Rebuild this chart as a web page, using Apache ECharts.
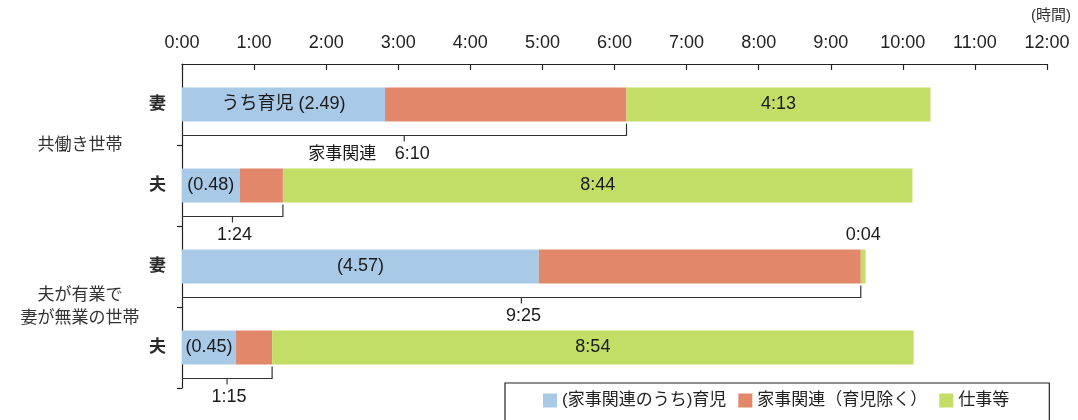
<!DOCTYPE html>
<html>
<head>
<meta charset="utf-8">
<script src="https://cdn.jsdelivr.net/npm/echarts@6/dist/echarts.min.js"></script>
<style>
  html, body { margin: 0; padding: 0; background: #fff; }
  #chart { width: 1078px; height: 420px; }
</style>
</head>
<body>
<div id="chart"></div>
<script>
// Daily time use (minutes) by spouse, for two household types
const categories = ['妻', '夫', '妻', '夫'];
const groups = ['共働き世帯', '夫が有業で\n妻が無業の世帯'];
const childcareMin = [169, 48, 297, 45];        // 育児
const otherHouseworkMin = [201, 36, 268, 30];   // 家事関連（育児除く）
const workMin = [253, 524, 4, 534];             // 仕事等
const houseworkTotalMin = [370, 84, 565, 75];   // 家事関連 total
const hourLabels = ['0:00', '1:00', '2:00', '3:00', '4:00', '5:00', '6:00',
                    '7:00', '8:00', '9:00', '10:00', '11:00', '12:00'];
const seriesNames = ['(家事関連のうち)育児', '家事関連（育児除く）', '仕事等'];

const FONT = "'Liberation Sans', 'Noto Sans CJK JP', sans-serif";
const COLORS = ['#a9cae6', '#e3876b', '#c2de66'];

const hm = (m, sep) => Math.floor(m / 60) + sep + String(m % 60).padStart(2, '0');

const chart = echarts.init(document.getElementById('chart'), null, { renderer: 'canvas' });

const option = {
  animation: false,
  textStyle: { fontFamily: FONT },
  title: {
    text: '(時間)', right: 2, top: 3,
    textStyle: { fontSize: 15, fontWeight: 'normal', color: '#333', fontFamily: FONT }
  },
  legend: {
    data: seriesNames,
    left: 505, top: 383,
    padding: [9, 40, 14, 38],
    borderColor: '#222', borderWidth: 1.2,
    icon: 'rect', itemWidth: 14, itemHeight: 14, itemGap: 12,
    textStyle: { fontSize: 17, color: '#222', fontFamily: FONT }
  },
  grid: { left: 182, right: 31, top: 64, bottom: 32, containLabel: false },
  xAxis: {
    type: 'value', position: 'top',
    min: 0, max: 720, interval: 60,
    axisLine: { show: true, lineStyle: { color: '#222', width: 1.2 } },
    axisTick: { show: true, inside: true, length: 6, lineStyle: { color: '#222', width: 1.2 } },
    axisLabel: {
      formatter: (v) => hourLabels[Math.round(v / 60)],
      margin: 12, fontSize: 18, color: '#222', fontFamily: FONT
    },
    splitLine: { show: false }
  },
  yAxis: [
    {
      type: 'category', data: categories, inverse: true,
      axisLine: { show: true, lineStyle: { color: '#222', width: 1.2 } },
      axisTick: { show: true, length: 5, interval: (i) => i !== 0, lineStyle: { color: '#222', width: 1.2 } },
      axisLabel: { margin: 16, fontSize: 17, fontWeight: 'bold', color: '#2a2a2a', fontFamily: FONT }
    },
    {
      type: 'category', data: groups, inverse: true, position: 'left',
      axisLine: { show: false }, axisTick: { show: false },
      axisLabel: { margin: 102, align: 'center', fontSize: 17, lineHeight: 23, color: '#333', fontFamily: FONT }
    }
  ],
  series: [
    {
      name: seriesNames[0], type: 'bar', stack: 'time', barWidth: 34,
      itemStyle: { color: COLORS[0] },
      label: {
        show: true, position: 'inside', color: '#1a1a1a', fontSize: 18, fontFamily: FONT,
        formatter: (p) => (p.dataIndex === 0 ? 'うち育児 (' : '(') + hm(p.value, '.') + ')'
      },
      data: childcareMin
    },
    {
      name: seriesNames[1], type: 'bar', stack: 'time', barWidth: 34,
      itemStyle: { color: COLORS[1] },
      data: otherHouseworkMin
    },
    {
      name: seriesNames[2], type: 'bar', stack: 'time', barWidth: 34,
      itemStyle: { color: COLORS[2] },
      label: {
        show: true, position: 'inside', color: '#1a1a1a', fontSize: 18, fontFamily: FONT,
        formatter: (p) => hm(p.value, ':')
      },
      data: workMin.map(v => v < 30 ? { value: v, label: { position: 'top', distance: 5 } } : v)
    },
    {
      // bracket under each bar spanning total housework time
      name: 'housework-bracket', type: 'custom',
      data: houseworkTotalMin.map((t, i) => [t, i]),
      z: 5, silent: true,
      renderItem: (params, api) => {
        const idx = api.value(1);
        const total = api.value(0);
        const p0 = api.coord([0, idx]);
        const p1 = api.coord([total, idx]);
        const yb = p0[1] + 31;
        const xm = (p0[0] + p1[0]) / 2;
        const stroke = { stroke: '#333', lineWidth: 1.2, fill: null };
        const children = [
          { type: 'polyline', shape: { points: [[p0[0], yb], [p1[0], yb], [p1[0], p0[1] + 19]] }, style: stroke },
          { type: 'line', shape: { x1: xm, y1: yb, x2: xm, y2: yb + 6 }, style: stroke },
          {
            type: 'text', x: idx === 0 ? xm + 8 : xm + 2, y: yb + 19,
            style: { text: hm(total, ':'), font: '18px ' + FONT, fill: '#1a1a1a', align: 'center', verticalAlign: 'middle' }
          }
        ];
        if (idx === 0) {
          children.push({
            type: 'text', x: xm - 28, y: yb + 19,
            style: { text: '家事関連', font: '17px ' + FONT, fill: '#1a1a1a', align: 'right', verticalAlign: 'middle' }
          });
        }
        return { type: 'group', children };
      }
    }
  ]
};

chart.setOption(option);
</script>
</body>
</html>
